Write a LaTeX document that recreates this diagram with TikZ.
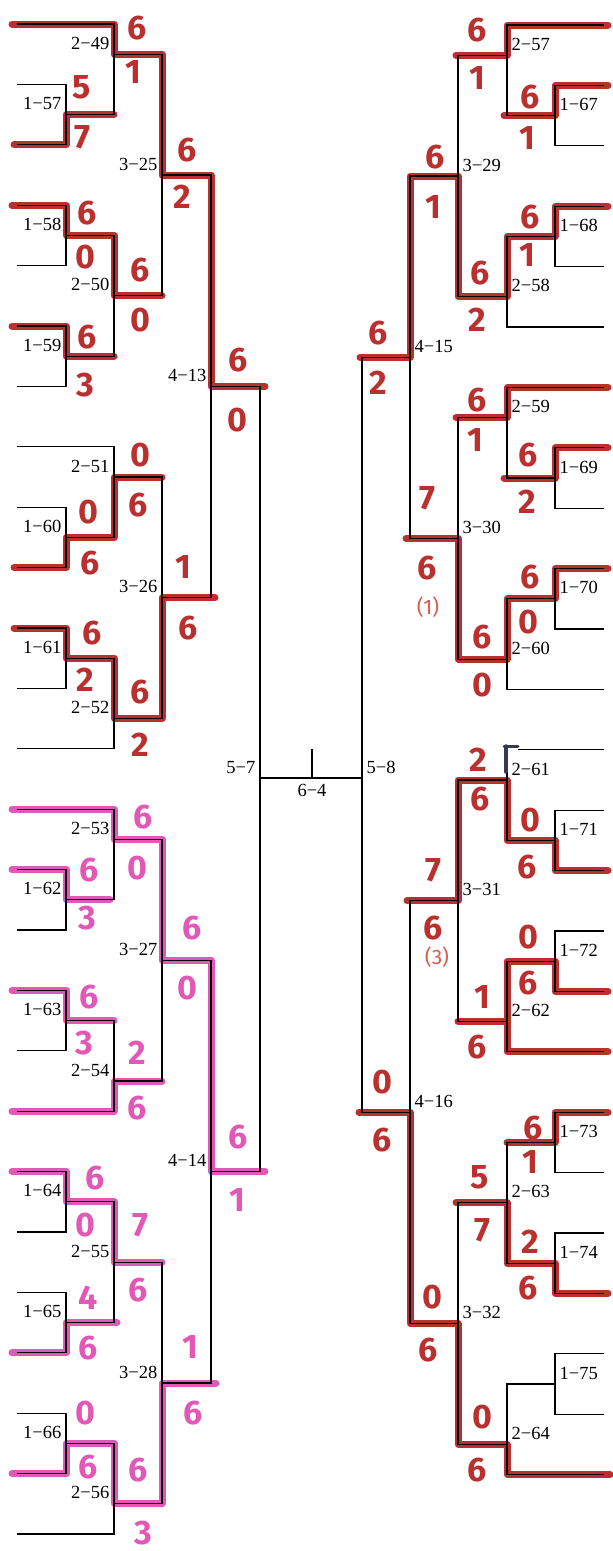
\documentclass[tikz,border=0pt]{standalone}
\usepackage{fontspec}
\setmainfont{Liberation Serif}
\newfontfamily\hand{Fira Sans}
\usetikzlibrary{calc}
\definecolor{mred}{RGB}{186,48,46}
\definecolor{mpink}{RGB}{226,88,182}
\definecolor{mnote}{RGB}{222,90,74}
\definecolor{penmark}{RGB}{55,58,78}
\tikzset{
  wire/.style={line width=1.3pt},
  hlR/.style={draw=mred, line width=7pt, line cap=round, line join=round},
  hlP/.style={draw=mpink, line width=7pt, line cap=round, line join=round},
  lbl/.style={font=\fontsize{18.5}{18.5}\selectfont, inner sep=0pt},
  lL/.style={lbl, anchor=south east, xshift=-4.5pt, yshift=4.5pt},
  lR/.style={lbl, anchor=south west, xshift=4.5pt, yshift=4.5pt},
  score/.style={font=\hand\bfseries\fontsize{34}{34}\selectfont, inner sep=0pt},
  sR/.style={score, text=mred},
  sP/.style={score, text=mpink},
  note/.style={font=\hand\fontsize{21}{21}\selectfont, inner sep=0pt, text=mnote}
}
\begin{document}
\begin{tikzpicture}[x=1pt,y=-1pt,
  declare function={yl(\i)=24+60.4*\i; yr(\i)=25+60.4*\i;}]
\useasboundingbox (0,0) rectangle (613,1551);
\fill[white] (0,0) rectangle (613,1551);
% slot ends
\foreach \i in {0,...,25} \coordinate (s\i) at (17,{yl(\i)});
\foreach \i in {0,...,24} \coordinate (r\i) at (604,{yr(\i)});
% left matches
\coordinate (m157) at (66,{yl(1.5)});
\coordinate (m158) at (66,{yl(3.5)});
\coordinate (m159) at (66,{yl(5.5)});
\coordinate (m160) at (66,{yl(8.5)});
\coordinate (m161) at (66,{yl(10.5)});
\coordinate (m162) at (66,{yl(14.5)});
\coordinate (m163) at (66,{yl(16.5)});
\coordinate (m164) at (66,{yl(19.5)});
\coordinate (m165) at (66,{yl(21.5)});
\coordinate (m166) at (66,{yl(23.5)});
\coordinate (m249) at (114,{yl(0.5)});
\coordinate (m250) at (114,{yl(4.5)});
\coordinate (m251) at (114,{yl(7.5)});
\coordinate (m252) at (114,{yl(11.5)});
\coordinate (m253) at (114,{yl(13.5)});
\coordinate (m254) at (114,{yl(17.5)});
\coordinate (m255) at (114,{yl(20.5)});
\coordinate (m256) at (114,{yl(24.5)});
\coordinate (m325) at (162,{yl(2.5)});
\coordinate (m326) at (162,{yl(9.5)});
\coordinate (m327) at (162,{yl(15.5)});
\coordinate (m328) at (162,{yl(22.5)});
\coordinate (m413) at (211,{yl(6)});
\coordinate (m414) at (211,{yl(19)});
\coordinate (m57) at (260,778);
% right matches
\coordinate (m167) at (555,{yr(1.5)});
\coordinate (m168) at (555,{yr(3.5)});
\coordinate (m169) at (555,{yr(7.5)});
\coordinate (m170) at (555,{yr(9.5)});
\coordinate (m171) at (555,{yr(13.5)});
\coordinate (m172) at (555,{yr(15.5)});
\coordinate (m173) at (555,{yr(18.5)});
\coordinate (m174) at (555,{yr(20.5)});
\coordinate (m175) at (555,{yr(22.5)});
\coordinate (m257) at (507,{yr(0.5)});
\coordinate (m258) at (507,{yr(4.5)});
\coordinate (m259) at (507,{yr(6.5)});
\coordinate (m260) at (507,{yr(10.5)});
\coordinate (m261) at (507,{yr(12.5)});
\coordinate (m262) at (507,{yr(16.5)});
\coordinate (m263) at (507,{yr(19.5)});
\coordinate (m264) at (507,{yr(23.5)});
\coordinate (m329) at (458,{yr(2.5)});
\coordinate (m330) at (458,{yr(8.5)});
\coordinate (m331) at (458,{yr(14.5)});
\coordinate (m332) at (458,{yr(21.5)});
\coordinate (m415) at (410,{yr(5.5)});
\coordinate (m416) at (410,{yr(18)});
\coordinate (m58) at (362,778);
\coordinate (f64) at (312,778);
\coordinate (t64) at (312,749);

% ---------- marker highlights (red, left) ----------
\draw[hlR] ($(s0)+(-5,0)$) -| (m249) -| (m325) -| (m413) -- ($(m413)+(54,0)$);
\draw[hlR] ($(s2)+(-3,0)$) -| (m157) -- (m157 -| m249);
\draw[hlR] ($(s3)+(-5,0)$) -| (m158) -| (m250) -- (m250 -| m325);
\draw[hlR] ($(s5)+(-5,0)$) -| (m159) -- (m159 -| m250);
\draw[hlR] ($(s9)+(-3,0)$) -| (m160) -| (m251) -- (m251 -| m326);
\draw[hlR] ($(s10)+(-3,0)$) -| (m161) -| (m252) -| (m326) -- ($(m326 -| m413)+(4,0)$);
% ---------- marker highlights (magenta, left) ----------
\draw[hlP] ($(s13)+(-5,0)$) -| (m253) -| (m327) -| (m414) -- ($(m414)+(54,0)$);
\draw[hlP] ($(s14)+(-5,0)$) -| (m162) -- ($(m162 -| m253)+(-4,0)$);
\draw[hlP] ($(s16)+(-5,0)$) -| (m163) -- (m163 -| m254);
\draw[hlP] ($(s18)+(-5,0)$) -| (m254) -- (m254 -| m327);
\draw[hlP] ($(s19)+(-5,0)$) -| (m164) -| (m255) -- (m255 -| m328);
\draw[hlP] ($(s22)+(-5,0)$) -| (m165) -- ($(m165 -| m255)+(3,0)$);
\draw[hlP] ($(s24)+(-5,0)$) -| (m166) -| (m256) -| (m328) -- ($(m328 -| m414)+(5,0)$);
% ---------- marker highlights (red, right) ----------
\draw[hlR] ($(r0)+(4,0)$) -| (m257) -- ($(m257 -| m329)+(-2,0)$);
\draw[hlR] ($(r1)+(4,0)$) -| (m167) -- ($(m167 -| m257)+(-3,0)$);
\draw[hlR] ($(r3)+(4,0)$) -| (m168) -| (m258) -| (m329) -| (m415) -- ($(m415 -| m58)+(-2,0)$);
\draw[hlR] ($(r6)+(4,0)$) -| (m259) -- ($(m259 -| m330)+(-2,0)$);
\draw[hlR] ($(r7)+(4,0)$) -| (m169) -- ($(m169 -| m259)+(-3,0)$);
\draw[hlR] ($(r9)+(4,0)$) -| (m170) -| (m260) -| (m330) -- ($(m330 -| m415)+(-4,0)$);
\draw[hlR] ($(r14)+(4,0)$) -| (m171) -| (m261) -| (m331) -- ($(m331 -| m416)+(-3,0)$);
\draw[hlR] ($(r16)+(4,0)$) -| (m172) -| (m262);
\draw[hlR] ($(r17)+(4,0)$) -| (m262) -- (m262 -| m331);
\draw[hlR] ($(m416 -| m58)+(-3,0)$) -- (m416) |- (m332) |- (m264) |- ($(r24)+(6,0)$);
\draw[hlR] ($(r18)+(4,0)$) -| (m173) -- (m173 -| m263);
\draw[hlR] ($(r21)+(4,0)$) -| (m174) -| (m263) -- ($(m263 -| m332)+(-2,0)$);

% ---------- printed bracket ----------
% left, round 1
\draw[wire] (s1) -| (m157) |- (s2);
\draw[wire] (s3) -| (m158) |- (s4);
\draw[wire] (s5) -| (m159) |- (s6);
\draw[wire] (s8) -| (m160) |- (s9);
\draw[wire] (s10) -| (m161) |- (s11);
\draw[wire] (s14) -| (m162) |- (s15);
\draw[wire] (s16) -| (m163) |- (s17);
\draw[wire] (s19) -| (m164) |- (s20);
\draw[wire] (s21) -| (m165) |- (s22);
\draw[wire] (s23) -| (m166) |- (s24);
% left, round 2
\draw[wire] (s0) -| (m249) |- (m157);
\draw[wire] (m158) -| (m250) |- (m159);
\draw[wire] (s7) -| (m251) |- (m160);
\draw[wire] (m161) -| (m252) |- (s12);
\draw[wire] (s13) -| (m253) |- (m162);
\draw[wire] (m163) -| (m254) |- (s18);
\draw[wire] (m164) -| (m255) |- (m165);
\draw[wire] (m166) -| (m256) |- (s25);
% left, rounds 3-5
\draw[wire] (m249) -| (m325) |- (m250);
\draw[wire] (m251) -| (m326) |- (m252);
\draw[wire] (m253) -| (m327) |- (m254);
\draw[wire] (m255) -| (m328) |- (m256);
\draw[wire] (m325) -| (m413) |- (m326);
\draw[wire] (m327) -| (m414) |- (m328);
\draw[wire] (m413) -| (m57) |- (m414);
% right, round 1
\draw[wire] (r1) -| (m167) |- (r2);
\draw[wire] (r3) -| (m168) |- (r4);
\draw[wire] (r7) -| (m169) |- (r8);
\draw[wire] (r9) -| (m170) |- (r10);
\draw[wire] (r13) -| (m171) |- (r14);
\draw[wire] (r15) -| (m172) |- (r16);
\draw[wire] (r18) -| (m173) |- (r19);
\draw[wire] (r20) -| (m174) |- (r21);
\draw[wire] (r22) -| (m175) |- (r23);
% right, round 2
\draw[wire] (r0) -| (m257) |- (m167);
\draw[wire] (m168) -| (m258) |- (r5);
\draw[wire] (r6) -| (m259) |- (m169);
\draw[wire] (m170) -| (m260) |- (r11);
\draw[wire] (r12) -| (m261) |- (m171);
\draw[wire] (m172) -| (m262) |- (r17);
\draw[wire] (m173) -| (m263) |- (m174);
\draw[wire] (m175) -| (m264) |- (r24);
% right, rounds 3-5
\draw[wire] (m257) -| (m329) |- (m258);
\draw[wire] (m259) -| (m330) |- (m260);
\draw[wire] (m261) -| (m331) |- (m262);
\draw[wire] (m263) -| (m332) |- (m264);
\draw[wire] (m329) -| (m415) |- (m330);
\draw[wire] (m331) -| (m416) |- (m332);
\draw[wire] (m415) -| (m58) |- (m416);
% final
\draw[wire] (m57) -- (m58);
\draw[wire] (f64) -- (t64);

% correction mark at 2-61
\fill[white] (500,734) rectangle (518,752);
\draw[penmark, line width=3pt, line cap=round] (504,746) -- (518,746);
\draw[penmark, line width=3.5pt, line cap=round] (506,746) -- (506,772);

% ---------- match labels ----------
\node[lL] (n157) at (m157) {1−57};
\node[lL] (n158) at (m158) {1−58};
\node[lL] (n159) at (m159) {1−59};
\node[lL] (n160) at (m160) {1−60};
\node[lL] (n161) at (m161) {1−61};
\node[lL] (n162) at (m162) {1−62};
\node[lL] (n163) at (m163) {1−63};
\node[lL] (n164) at (m164) {1−64};
\node[lL] (n165) at (m165) {1−65};
\node[lL] (n166) at (m166) {1−66};
\node[lL] (n249) at (m249) {2−49};
\node[lL] (n250) at (m250) {2−50};
\node[lL] (n251) at (m251) {2−51};
\node[lL] (n252) at (m252) {2−52};
\node[lL] (n253) at (m253) {2−53};
\node[lL] (n254) at (m254) {2−54};
\node[lL] (n255) at (m255) {2−55};
\node[lL] (n256) at (m256) {2−56};
\node[lL] (n325) at (m325) {3−25};
\node[lL] (n326) at (m326) {3−26};
\node[lL] (n327) at (m327) {3−27};
\node[lL] (n328) at (m328) {3−28};
\node[lL] (n413) at (m413) {4−13};
\node[lL] (n414) at (m414) {4−14};
\node[lL] (n57) at (m57) {5−7};
\node[lR] (n167) at (m167) {1−67};
\node[lR] (n168) at (m168) {1−68};
\node[lR] (n169) at (m169) {1−69};
\node[lR] (n170) at (m170) {1−70};
\node[lR] (n171) at (m171) {1−71};
\node[lR] (n172) at (m172) {1−72};
\node[lR] (n173) at (m173) {1−73};
\node[lR] (n174) at (m174) {1−74};
\node[lR] (n175) at (m175) {1−75};
\node[lR] (n257) at (m257) {2−57};
\node[lR] (n258) at (m258) {2−58};
\node[lR] (n259) at (m259) {2−59};
\node[lR] (n260) at (m260) {2−60};
\node[lR] (n261) at (m261) {2−61};
\node[lR] (n262) at (m262) {2−62};
\node[lR] (n263) at (m263) {2−63};
\node[lR] (n264) at (m264) {2−64};
\node[lR] (n329) at (m329) {3−29};
\node[lR] (n330) at (m330) {3−30};
\node[lR] (n331) at (m331) {3−31};
\node[lR] (n332) at (m332) {3−32};
\node[lR] (n415) at (m415) {4−15};
\node[lR] (n416) at (m416) {4−16};
\node[lR] (n58) at (m58) {5−8};
\node[lbl, anchor=north, yshift=-6pt] (n64) at (f64) {6−4};

% ---------- handwritten scores ----------
% left top (red)
\node[sR] (a249) at (137,28) {6};   \node[sR] (b249) at (133,72) {1};
\node[sR] (a157) at (82,87) {5};    \node[sR] (b157) at (82,137) {7};
\node[sR] (a325) at (187,150) {6};  \node[sR] (b325) at (182,197) {2};
\node[sR] (a158) at (87,213) {6};   \node[sR] (b158) at (85,257) {0};
\node[sR] (a250) at (140,270) {6};  \node[sR] (b250) at (140,320) {0};
\node[sR] (a159) at (87,337) {6};   \node[sR] (b159) at (85,385) {3};
\node[sR] (a413) at (238,360) {6};  \node[sR] (b413) at (237,420) {0};
\node[sR] (a251) at (140,455) {0};  \node[sR] (b251) at (138,505) {6};
\node[sR] (a160) at (88,512) {0};   \node[sR] (b160) at (90,563) {6};
\node[sR] (a326) at (183,567) {1};  \node[sR] (b326) at (188,628) {6};
\node[sR] (a161) at (92,633) {6};   \node[sR] (b161) at (85,680) {2};
\node[sR] (a252) at (140,692) {6};  \node[sR] (b252) at (140,745) {2};
% left bottom (magenta)
\node[sP] (a253) at (143,817) {6};  \node[sP] (b253) at (137,868) {0};
\node[sP] (a162) at (89,870) {6};   \node[sP] (b162) at (87,918) {3};
\node[sP] (a327) at (192,928) {6};  \node[sP] (b327) at (187,988) {0};
\node[sP] (a163) at (89,997) {6};   \node[sP] (b163) at (84,1043) {3};
\node[sP] (a254) at (137,1053) {2}; \node[sP] (b254) at (137,1108) {6};
\node[sP] (a414) at (238,1137) {6}; \node[sP] (b414) at (237,1200) {1};
\node[sP] (a164) at (95,1178) {6};  \node[sP] (b164) at (85,1225) {0};
\node[sP] (a255) at (140,1225) {7}; \node[sP] (b255) at (138,1290) {6};
\node[sP] (a165) at (88,1298) {4};  \node[sP] (b165) at (88,1348) {6};
\node[sP] (a328) at (190,1347) {1}; \node[sP] (b328) at (193,1413) {6};
\node[sP] (a166) at (85,1413) {0};  \node[sP] (b166) at (88,1467) {6};
\node[sP] (a256) at (138,1470) {6}; \node[sP] (b256) at (143,1533) {3};
% right (red)
\node[sR] (a257) at (477,30) {6};   \node[sR] (b257) at (477,78) {1};
\node[sR] (a167) at (530,97) {6};   \node[sR] (b167) at (527,138) {1};
\node[sR] (a329) at (435,157) {6};  \node[sR] (b329) at (433,207) {1};
\node[sR] (a168) at (530,217) {6};  \node[sR] (b168) at (527,255) {1};
\node[sR] (a258) at (480,273) {6};  \node[sR] (b258) at (477,320) {2};
\node[sR] (a415) at (378,333) {6};  \node[sR] (b415) at (378,383) {2};
\node[sR] (a259) at (477,400) {6};  \node[sR] (b259) at (475,440) {1};
\node[sR] (a169) at (528,455) {6};  \node[sR] (b169) at (527,502) {2};
\node[sR] (a330) at (427,498) {7};  \node[sR] (b330) at (427,568) {6};
\node[note] (c330) at (428,607) {(1)};
\node[sR] (a170) at (530,577) {6};  \node[sR] (b170) at (528,622) {0};
\node[sR] (a260) at (482,637) {6};  \node[sR] (b260) at (482,685) {0};
\node[sR] (a261) at (478,760) {2};  \node[sR] (b261) at (480,799) {6};
\node[sR] (a171) at (530,820) {0};  \node[sR] (b171) at (527,867) {6};
\node[sR] (a331) at (433,870) {7};  \node[sR] (b331) at (433,928) {6};
\node[note] (c331) at (437,957) {(3)};
\node[sR] (a172) at (528,937) {0};  \node[sR] (b172) at (528,983) {6};
\node[sR] (a262) at (482,997) {1};  \node[sR] (b262) at (477,1047) {6};
\node[sR] (a416) at (382,1082) {0}; \node[sR] (b416) at (382,1140) {6};
\node[sR] (a173) at (533,1128) {6}; \node[sR] (b173) at (530,1162) {1};
\node[sR] (a263) at (480,1177) {5}; \node[sR] (b263) at (482,1230) {7};
\node[sR] (a174) at (530,1242) {2}; \node[sR] (b174) at (528,1288) {6};
\node[sR] (a332) at (432,1297) {0}; \node[sR] (b332) at (428,1350) {6};
\node[sR] (a264) at (482,1417) {0}; \node[sR] (b264) at (477,1470) {6};
\end{tikzpicture}
\end{document}
